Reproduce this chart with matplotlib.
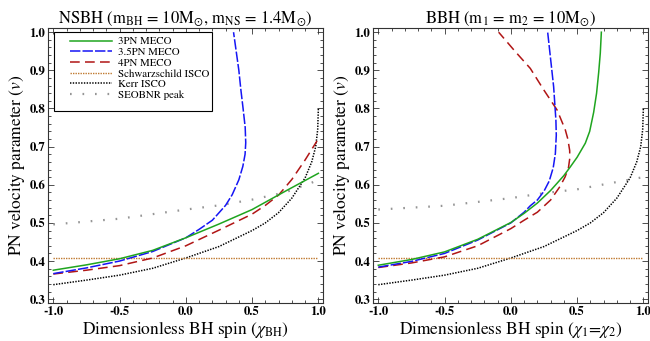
import matplotlib
matplotlib.use("Agg")
import matplotlib.pyplot as plt
import matplotlib.patches as mpatches
from matplotlib.lines import Line2D
from matplotlib.ticker import MultipleLocator, FormatStrFormatter

plt.rcParams['font.family'] = 'STIXGeneral'
plt.rcParams['mathtext.fontset'] = 'stix'
plt.rcParams['lines.scale_dashes'] = False

# ---- NSBH panel ----
nsbh_3pn_chi = [-1.0, -0.75, -0.5, -0.25, 0.0, 0.25, 0.5, 0.75, 1.0]
nsbh_3pn_v = [0.376, 0.390, 0.406, 0.428, 0.461, 0.497, 0.535, 0.583, 0.630]

nsbh_35pn_chi = [-1.0, -0.75, -0.5, -0.25, 0.0, 0.1, 0.2, 0.3, 0.35, 0.4, 0.43,
                 0.447, 0.452, 0.448, 0.432, 0.415, 0.40, 0.36]
nsbh_35pn_v = [0.367, 0.382, 0.400, 0.425, 0.461, 0.483, 0.507, 0.546, 0.574, 0.613, 0.648,
               0.680, 0.710, 0.750, 0.800, 0.850, 0.900, 1.000]

nsbh_4pn_chi = [-1.0, -0.75, -0.5, -0.25, 0.0, 0.25, 0.5, 0.6, 0.7, 0.8, 0.9, 0.99]
nsbh_4pn_v = [0.366, 0.376, 0.388, 0.408, 0.440, 0.481, 0.523, 0.546, 0.573, 0.614, 0.665, 0.715]

nsbh_seob_chi = [-1.0, -0.5, 0.0, 0.25, 0.5, 0.75, 1.0]
nsbh_seob_v = [0.496, 0.511, 0.535, 0.546, 0.561, 0.580, 0.612]

# ---- BBH panel ----
bbh_3pn_chi = [-1.0, -0.75, -0.5, -0.25, 0.0, 0.1, 0.2, 0.3, 0.349, 0.4, 0.449, 0.5,
               0.562, 0.595, 0.625, 0.647, 0.663, 0.675, 0.683]
bbh_3pn_v = [0.389, 0.404, 0.424, 0.457, 0.501, 0.525, 0.552, 0.585, 0.604, 0.624, 0.647, 0.672,
             0.709, 0.740, 0.790, 0.840, 0.895, 0.945, 1.000]

bbh_35pn_chi = [-1.0, -0.75, -0.5, -0.25, 0.0, 0.1, 0.147, 0.2, 0.25, 0.29, 0.32, 0.336,
                0.343, 0.34, 0.323, 0.278]
bbh_35pn_v = [0.384, 0.399, 0.420, 0.455, 0.500, 0.528, 0.545, 0.560, 0.583, 0.610, 0.645, 0.682,
              0.730, 0.770, 0.857, 1.000]

bbh_4pn_chi = [-1.0, -0.75, -0.5, -0.25, 0.0, 0.1, 0.2, 0.3, 0.37, 0.41, 0.435, 0.445, 0.444,
               0.43, 0.411, 0.349, 0.248, 0.147, 0.034, -0.092]
bbh_4pn_v = [0.383, 0.395, 0.411, 0.440, 0.485, 0.507, 0.528, 0.560, 0.595, 0.621, 0.645, 0.670,
             0.690, 0.720, 0.744, 0.796, 0.849, 0.905, 0.949, 1.000]

bbh_seob_chi = [-1.0, -0.5, 0.0, 0.25, 0.5, 0.75, 1.0]
bbh_seob_v = [0.535, 0.545, 0.565, 0.578, 0.588, 0.604, 0.620]

# ---- shared curves ----
kerr_chi = [-1.0, -0.75, -0.5, -0.25, 0.0, 0.25, 0.5, 0.6, 0.7, 0.8, 0.9, 0.95, 0.98, 0.995, 1.0]
kerr_v = [0.338, 0.350, 0.363, 0.381, 0.408, 0.438, 0.480, 0.500, 0.527, 0.565, 0.618, 0.660,
          0.700, 0.745, 0.800]
schw_chi = [-1.0, 1.0]
schw_v = [0.408, 0.408]

labels = ['3PN MECO', '3.5PN MECO', '4PN MECO', 'Schwarzschild ISCO', 'Kerr ISCO', 'SEOBNR peak']
styles = [dict(color='#1fa51f', lw=1.1, ls='-'),
          dict(color='#1515f5', lw=1.1, dashes=(7.5, 1.5)),
          dict(color='#b01515', lw=1.1, dashes=(7.0, 3.8)),
          dict(color='#c07a30', lw=1.0, dashes=(1.0, 0.8)),
          dict(color='black', lw=1.1, dashes=(1.0, 1.0)),
          dict(color='#959595', lw=1.6, dashes=(1.2, 7.8))]

panels = [
    dict(curves=[(nsbh_3pn_chi, nsbh_3pn_v), (nsbh_35pn_chi, nsbh_35pn_v), (nsbh_4pn_chi, nsbh_4pn_v),
                 (schw_chi, schw_v), (kerr_chi, kerr_v), (nsbh_seob_chi, nsbh_seob_v)],
         title=r'NSBH (m$_{\rm BH}$ = 10M$_{\odot}$, m$_{\rm NS}$ = 1.4M$_{\odot}$)',
         xlabel=r'Dimensionless BH spin ($\chi_{\rm BH}$)'),
    dict(curves=[(bbh_3pn_chi, bbh_3pn_v), (bbh_35pn_chi, bbh_35pn_v), (bbh_4pn_chi, bbh_4pn_v),
                 (schw_chi, schw_v), (kerr_chi, kerr_v), (bbh_seob_chi, bbh_seob_v)],
         title=r'BBH (m$_1$ = m$_2$ = 10M$_{\odot}$)',
         xlabel=r'Dimensionless BH spin ($\chi_1\!=\!\chi_2$)'),
]

fig = plt.figure(figsize=(6.5, 3.41), dpi=100)
lefts = [48/650, 373/650]

for k, p in enumerate(panels):
    ax = fig.add_axes([lefts[k], 1-303/341, 275/650, 275/341])
    # draw in reverse so the MECO curves sit on top
    for (cx, cy), st in reversed(list(zip(p['curves'], styles))):
        ax.plot(cx, cy, **st)
    ax.set_xlim(-1.04, 1.035)
    ax.set_ylim(0.29, 1.011)
    ax.xaxis.set_major_locator(MultipleLocator(0.5))
    ax.xaxis.set_minor_locator(MultipleLocator(0.1))
    ax.yaxis.set_major_locator(MultipleLocator(0.1))
    ax.yaxis.set_minor_locator(MultipleLocator(0.02))
    ax.xaxis.set_major_formatter(FormatStrFormatter('%.1f'))
    ax.yaxis.set_major_formatter(FormatStrFormatter('%.1f'))
    ax.tick_params(which='both', direction='in', top=True, right=True, width=0.6, color='#333333')
    ax.tick_params(which='major', length=4, labelsize=9.3, pad=2)
    ax.tick_params(which='minor', length=2)
    for lab in ax.get_xticklabels() + ax.get_yticklabels():
        lab.set_fontweight('bold')
    for s in ax.spines.values():
        s.set_linewidth(0.8)
        s.set_color('#333333')
    ax.set_title(p['title'], fontsize=12, pad=3)
    ax.set_xlabel(p['xlabel'], fontsize=12.5, labelpad=1)
    ax.set_ylabel(r'PN velocity parameter ($v$)', fontsize=12.5, labelpad=2)

    if k == 0:
        ax.add_patch(mpatches.Rectangle((0.022, 0.70), 0.575, 0.285, transform=ax.transAxes,
                                        facecolor='white', edgecolor='black', lw=0.8, zorder=4))
        handles = [Line2D([], [], **st) for st in styles]
        ax.legend(handles, labels, loc='upper left', bbox_to_anchor=(0.08, 0.968), frameon=False,
                  fontsize=7.8, handlelength=3.9, handletextpad=0.55, labelspacing=0.1,
                  borderpad=0, borderaxespad=0)

fig.savefig('out.png', dpi=100)
